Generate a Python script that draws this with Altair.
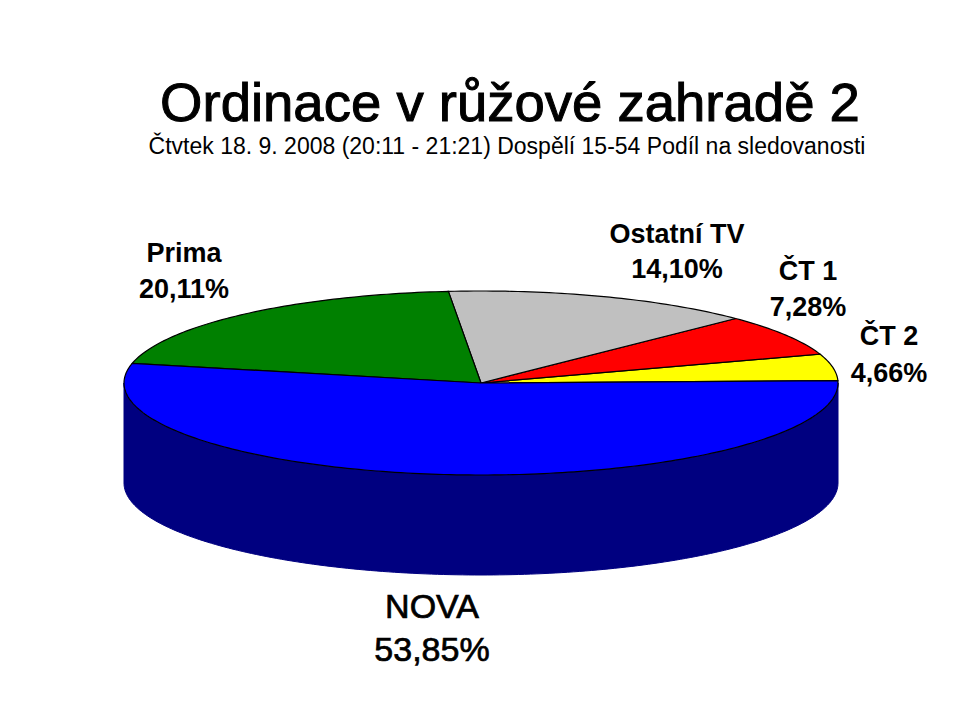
import math
import altair as alt

# Values, in the order the slices run anticlockwise from the right-hand edge
names = ["ČT 2", "ČT 1", "Ostatní TV", "Prima", "NOVA"]
shares = [4.66, 7.28, 14.10, 20.11, 53.85]
colors = ["#FFFF00", "#FF0000", "#C0C0C0", "#008000", "#0000FF"]
side_color = "#000080"

title_text = "Ordinace v růžové zahradě 2"
subtitle_text = "Čtvtek 18. 9. 2008 (20:11 - 21:21) Dospělí 15-54  Podíl na sledovanosti"

# Pie geometry
RX, RY, DEPTH = 357, 92, 100
CX, CY = 481 - 8, 383 - 8
START = 1.5
W, H = 943, 680
FONT = "Liberation Sans"


def rim(angle, drop=0):
    a = math.radians(angle)
    return [RX * math.cos(a), RY * math.sin(a) - drop]


def arc(a0, a1, drop=0):
    n = max(2, int(abs(a1 - a0)))
    return [rim(a0 + (a1 - a0) * i / n, drop) for i in range(n + 1)]


features = []
angle = START
for name, share in zip(names, shares):
    sweep = share * 3.6
    ring = [[0, 0]] + arc(angle, angle + sweep) + [[0, 0]]
    features.append({"type": "Feature", "properties": {"name": name},
                     "geometry": {"type": "Polygon", "coordinates": [ring]}})
    angle += sweep

side_ring = arc(180, 360) + arc(360, 180, DEPTH)
side_ring.append(side_ring[0])
side_feature = {"type": "Feature", "properties": {"name": "side"},
                "geometry": {"type": "Polygon", "coordinates": [side_ring]}}

projection = alt.Projection(type="identity", reflectY=True, scale=1, translate=[CX, CY])


def geo_data(items):
    return alt.InlineData(values={"type": "FeatureCollection", "features": items},
                          format=alt.JsonDataFormat(type="json", property="features"))


side = alt.Chart(geo_data([side_feature])).mark_geoshape(
    fill=side_color, stroke=side_color, strokeWidth=1
).project(**projection.to_dict())

slices = alt.Chart(geo_data(features)).mark_geoshape(
    stroke="#000000", strokeWidth=1.2
).encode(
    fill=alt.Color("properties.name:N", scale=alt.Scale(domain=names, range=colors), legend=None)
).project(**projection.to_dict())


def pct(v):
    return f"{v:.2f}".replace(".", ",") + "%"


def text_layer(text, x, y, size, bold=False, weight=0.0):
    return alt.Chart(alt.Data(values=[{"t": text}])).mark_text(
        font=FONT, fontSize=size, fontWeight="bold" if bold else "normal",
        color="#000000", stroke="#000000", strokeWidth=weight,
        align="center", baseline="alphabetic"
    ).encode(x=alt.value(x - 8), y=alt.value(y - 8), text="t:N")


label_spots = {
    "Prima": (184, 262, 298, 27, True, 0),
    "Ostatní TV": (677, 243, 278, 27, True, 0),
    "ČT 1": (808, 280, 316, 27, True, 0),
    "ČT 2": (889, 345, 382, 27, True, 0),
    "NOVA": (432, 618, 661, 34, False, 0.7),
}

texts = [
    text_layer(title_text, 510, 121, 54.5, weight=1.0),
    text_layer(subtitle_text, 507, 154, 23),
]
for name, share in zip(names, shares):
    x, y1, y2, size, bold, weight = label_spots[name]
    texts.append(text_layer(name, x, y1, size, bold, weight))
    texts.append(text_layer(pct(share), x, y2, size, bold, weight))

chart = alt.layer(side, slices, *texts).properties(
    width=W, height=H, padding=0, autosize=alt.AutoSizeParams(type="none"),
    background="#FFFFFF"
).configure_view(stroke=None)

chart.save("out.html", embed_options={"renderer": "svg", "actions": False})
